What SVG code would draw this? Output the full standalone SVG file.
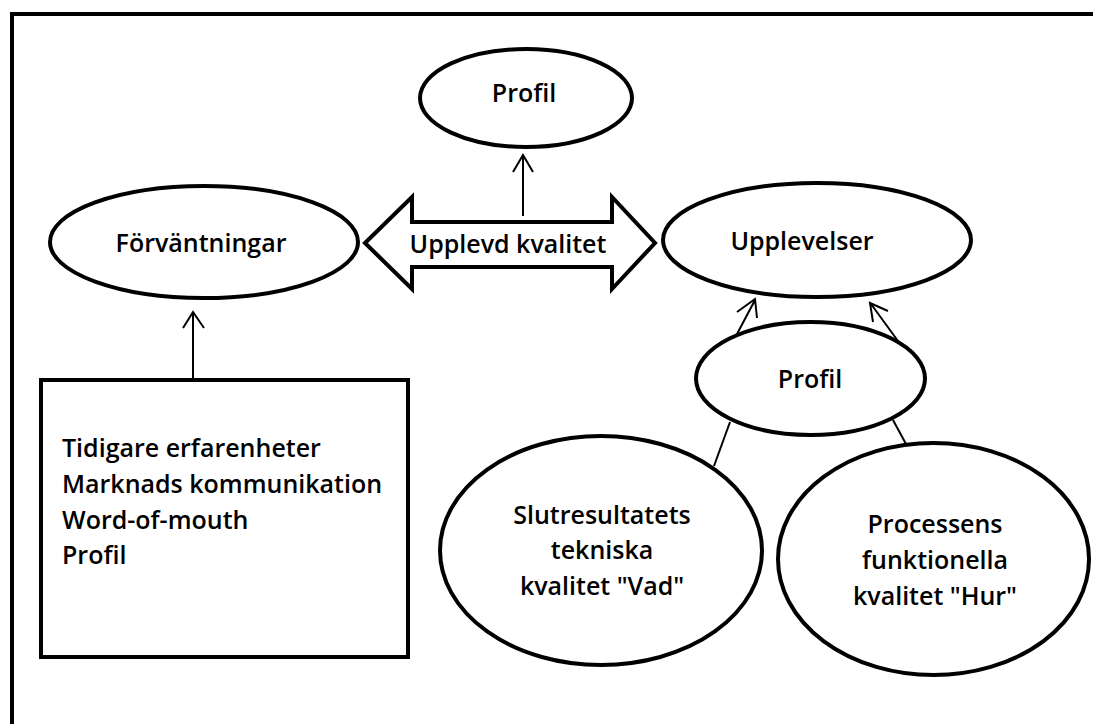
<svg xmlns="http://www.w3.org/2000/svg" width="1093" height="724" viewBox="0 0 1093 724">
<style>
.shape{fill:#fff;stroke:#000;stroke-width:4}
.frame{fill:none;stroke:#000;stroke-width:4}
.conn{fill:none;stroke:#000;stroke-width:2}
text{font-family:"Open Sans","Noto Sans","Liberation Sans",sans-serif;font-size:25px;font-weight:600;fill:#000}
.c{text-anchor:middle}
</style>
<rect width="1093" height="724" fill="#fff"/>
<rect class="frame" x="12" y="14" width="1100" height="730"/>
<g id="connectors">
<path class="conn" d="M193,378 V313 M183,328 L193,312 L204,328"/>
<path class="conn" d="M523,216 V156 M513,172 L523,155 L533,172"/>
<path class="conn" d="M737,334 L755,300 M737,312 L755,299 L757,318"/>
<path class="conn" d="M898,341 L871,304 M888,311 L870,303 L873,322"/>
<path class="conn" d="M730,422 L714,466"/>
<path class="conn" d="M893,420 L906,444"/>
</g>
<g id="node-profil-top">
<ellipse class="shape" cx="526" cy="98" rx="106" ry="49"/>
<text class="c" x="524" y="102">Profil</text>
</g>
<g id="node-forvantningar">
<ellipse class="shape" cx="204" cy="242" rx="154" ry="56"/>
<text class="c" x="201" y="252">Förväntningar</text>
</g>
<g id="node-upplevd-kvalitet">
<path class="shape" d="M365,243 L412,197 V222 H612 V197 L655,243 L612,289 V267 H412 V289 Z"/>
<text class="c" x="508" y="253">Upplevd kvalitet</text>
</g>
<g id="node-upplevelser">
<ellipse class="shape" cx="817" cy="240" rx="154" ry="57"/>
<text class="c" x="802" y="250">Upplevelser</text>
</g>
<g id="node-profil-mid">
<ellipse class="shape" cx="810.5" cy="378.5" rx="114.5" ry="56.5"/>
<text class="c" x="810" y="388">Profil</text>
</g>
<g id="node-box">
<rect class="shape" x="41" y="380" width="367" height="277"/>
<text x="62" y="457">Tidigare erfarenheter</text>
<text x="62" y="493">Marknads kommunikation</text>
<text x="62" y="529">Word-of-mouth</text>
<text x="62" y="564">Profil</text>
</g>
<g id="node-slutresultatets">
<ellipse class="shape" cx="601" cy="550.5" rx="161" ry="114.5"/>
<text class="c" x="602" y="524">Slutresultatets</text>
<text class="c" x="602" y="559">tekniska</text>
<text class="c" x="602" y="595">kvalitet "Vad"</text>
</g>
<g id="node-processens">
<ellipse class="shape" cx="933.5" cy="559" rx="155.5" ry="116"/>
<text class="c" x="935" y="533">Processens</text>
<text class="c" x="935" y="569">funktionella</text>
<text class="c" x="935" y="605">kvalitet "Hur"</text>
</g>
</svg>
